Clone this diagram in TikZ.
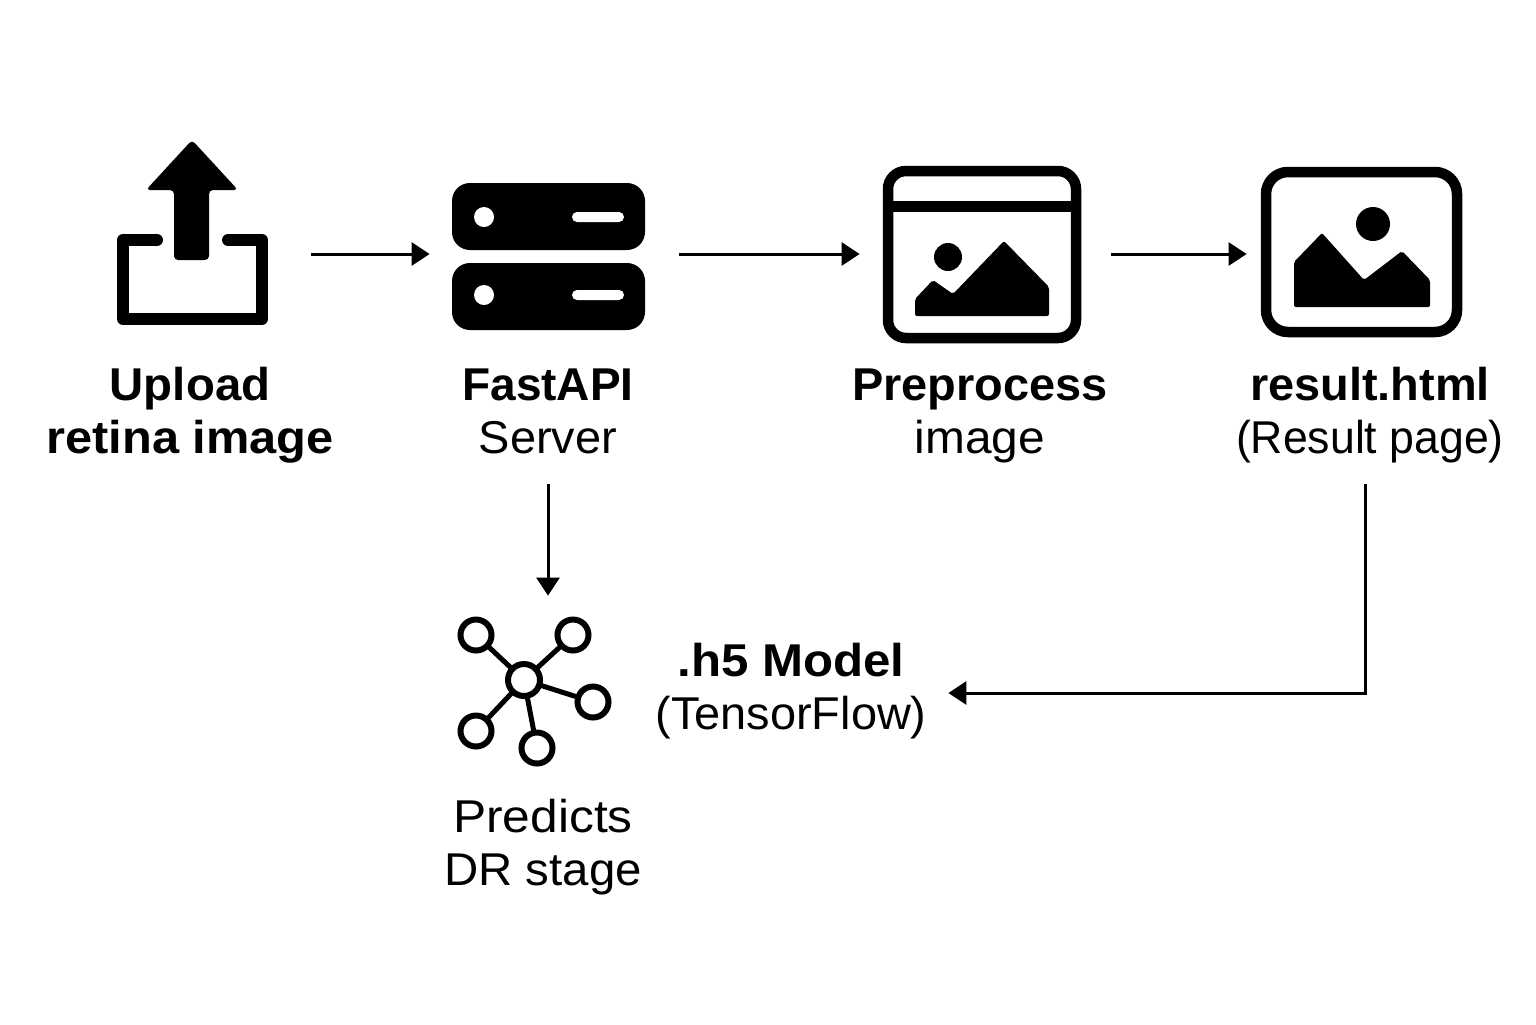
\documentclass[tikz,border=0pt]{standalone}
\usepackage{fontspec}
\setmainfont{Liberation Sans}
\usetikzlibrary{arrows.meta}
\newcommand{\capline}[2]{\strut{\addfontfeature{FakeStretch=#1}#2}}
\tikzset{
  flowarrow/.style={draw=black, line width=1.5pt, -{Triangle[length=9pt,width=11.5pt]}},
  caption/.style={align=center, inner sep=0pt, minimum height=68pt, font=\fontsize{23}{26.5}\selectfont},
  iconarea/.style={inner sep=0pt, minimum height=20pt},
  outline/.style={draw=black, line width=5.25pt, rounded corners=9pt},
  netnode/.style={draw=black, fill=white, line width=3pt}
}
\begin{document}
\begin{tikzpicture}[x=0.5pt, y=-0.5pt]
        \useasboundingbox[fill=white] (0, 0) rectangle (1536, 1024);
        % upload icon
        \draw[line width=6pt, line join=round, line cap=round] (157, 240) -- (123, 240) -- (123, 319) -- (262, 319) -- (262, 240) -- (228, 240);
        \fill[black, rounded corners=2pt] (192, 140) -- (238, 190) -- (209, 190) -- (209, 260) -- (174, 260) -- (174, 190) -- (146, 190) -- cycle;
        % server icon
        \fill[black, rounded corners=9pt] (452, 183) rectangle (645, 250);
        \fill[black, rounded corners=9pt] (452, 263) rectangle (645, 330);
        \fill[white] (484, 217) circle (10);
        \fill[white] (484, 295) circle (10);
        \fill[white, rounded corners=2.5pt] (572, 212) rectangle (624, 222);
        \fill[white, rounded corners=2.5pt] (572, 290) rectangle (624, 300);
        % window icon
        \draw[outline] (888, 171) rectangle (1076, 338);
        \draw[line width=5.5pt] (888, 206) -- (1076, 206);
        \fill[black] (948, 257) circle (14);
        \fill[black, rounded corners=1pt] (915, 316) -- (915, 299) -- (933, 280) -- (953, 294) -- (1004, 241) -- (1049, 287) -- (1049, 316) -- cycle;
        % result icon
        \draw[outline, rounded corners=11pt] (1266, 172) rectangle (1457, 332);
        \fill[black] (1373, 224) circle (17);
        \fill[black, rounded corners=1pt] (1294, 307) -- (1294, 262) -- (1322, 233) -- (1364, 280) -- (1402, 251) -- (1430, 280) -- (1430, 307) -- cycle;
        % network icon
        \draw[line width=2.5pt] (524, 680) -- (476, 635);
        \draw[line width=2.5pt] (524, 680) -- (573, 635);
        \draw[line width=2.5pt] (524, 680) -- (593, 702);
        \draw[line width=2.5pt] (524, 680) -- (476, 731);
        \draw[line width=2.5pt] (524, 680) -- (537, 748);
        \draw[netnode] (524, 680) circle (16);
        \draw[netnode] (476, 635) circle (15.5);
        \draw[netnode] (573, 635) circle (15.5);
        \draw[netnode] (593, 702) circle (15.5);
        \draw[netnode] (476, 731) circle (15.5);
        \draw[netnode] (537, 748) circle (15.5);
        % icon areas used by the arrows
        \node[iconarea, minimum width=155.5pt] (upload) at (155.5, 254) {};
        \node[iconarea, minimum width=124.5pt] (server) at (554.5, 254) {};
        \node[iconarea, minimum width=125.5pt] (window) at (985.5, 254) {};
        \node[iconarea, minimum width=100pt] (page) at (1347, 254) {};
        \node[iconarea, minimum width=100pt, minimum height=90pt] (network) at (548, 686) {};
        % captions
        \node[caption] (uploadtext) at (190, 416) {\capline{1.03}{\textbf{Upload}}\\\capline{1.06}{\textbf{retina image}}};
        \node[caption] (servertext) at (548, 416) {\capline{1.0}{\textbf{FastAPI}}\\\capline{1.02}{Server}};
        \node[caption] (windowtext) at (980, 416) {\capline{1.02}{\textbf{Preprocess}}\\\capline{1.04}{image}};
        \node[caption] (pagetext) at (1370, 416) {\capline{1.02}{\textbf{result.html}}\\\capline{0.97}{(Result page)}};
        \node[caption, minimum width=157pt] (modeltext) at (791, 692) {\capline{1.07}{\textbf{.h5 Model}}\\\capline{1.02}{(TensorFlow)}};
        \node[caption] (networktext) at (543, 848) {\capline{1.08}{Predicts}\\\capline{1.03}{DR stage}};
        % arrows
        \draw[flowarrow] (upload.east) -- (server.west);
        \draw[flowarrow] (server.east) -- (window.west);
        \draw[flowarrow] (window.east) -- (page.west);
        \draw[flowarrow] (servertext.south) -- (network.north);
        \draw[flowarrow] ([xshift=-2.5pt]pagetext.south) |- ([yshift=-0.5pt]modeltext.east);
\end{tikzpicture}
\end{document}
